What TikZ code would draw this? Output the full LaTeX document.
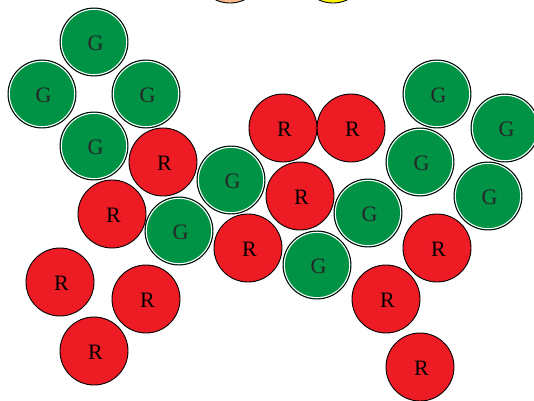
\documentclass[tikz,border=0pt]{standalone}
\usepackage{fontspec}
\setmainfont{Liberation Serif}
\definecolor{ggreen}{RGB}{0,146,69}
\definecolor{rred}{RGB}{237,28,36}
\definecolor{peach}{RGB}{247,185,140}
\definecolor{yell}{RGB}{255,242,0}
\tikzset{
  ball/.style={circle, minimum size=68pt, inner sep=0pt, draw=black, line width=0.9pt,
    font=\fontsize{22}{22}\selectfont, text depth=0pt},
  gc/.style={ball, fill=ggreen, text=black!85,
    path picture={\draw[white, line width=1.1pt] (path picture bounding box.center) circle (32.7pt);}},
  rc/.style={ball, fill=rred, text=black}
}
\newcommand{\lbl}[1]{\hspace*{3pt}\raisebox{-2.5pt}{#1}}
\begin{document}
\begin{tikzpicture}[x=1pt,y=-1pt]
\useasboundingbox (0,0) rectangle (534,400);
% partial circles at top
\node[ball, fill=peach] (o1) at (230,-31) {};
\node[ball, fill=yell] (y1) at (333,-31) {};
% green
\node[gc] (g1) at (94,42) {\lbl{G}};
\node[gc] (g2) at (42,94) {\lbl{G}};
\node[gc] (g3) at (146,94) {\lbl{G}};
\node[gc] (g4) at (94,146) {\lbl{G}};
\node[gc] (g5) at (231,180) {\lbl{G}};
\node[gc] (g6) at (179,231) {\lbl{G}};
\node[gc] (g7) at (368,213) {\lbl{G}};
\node[gc] (g8) at (317,265) {\lbl{G}};
\node[gc] (g9) at (437,94) {\lbl{G}};
\node[gc] (g10) at (505,128) {\lbl{G}};
\node[gc] (g11) at (420,162) {\lbl{G}};
\node[gc] (g12) at (488,196) {\lbl{G}};
% red
\node[rc] (r1) at (163,162) {\lbl{R}};
\node[rc] (r2) at (112,214) {\lbl{R}};
\node[rc] (r3) at (283,128) {\lbl{R}};
\node[rc] (r4) at (351,128) {\lbl{R}};
\node[rc] (r5) at (300,196) {\lbl{R}};
\node[rc] (r6) at (248,248) {\lbl{R}};
\node[rc] (r7) at (437,248) {\lbl{R}};
\node[rc] (r8) at (386,299) {\lbl{R}};
\node[rc] (r9) at (420,367) {\lbl{R}};
\node[rc] (r10) at (60,282) {\lbl{R}};
\node[rc] (r11) at (146,299) {\lbl{R}};
\node[rc] (r12) at (94,351) {\lbl{R}};
\end{tikzpicture}
\end{document}
